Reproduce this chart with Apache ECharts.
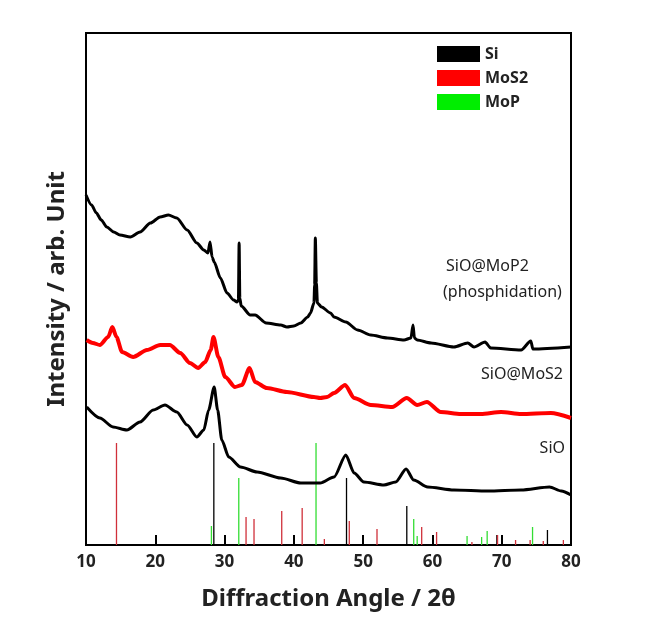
<!DOCTYPE html>
<html>
<head>
<meta charset="utf-8">
<script src="https://cdn.jsdelivr.net/npm/echarts@6/dist/echarts.min.js"></script>
<style>html,body{margin:0;padding:0;background:#fff}#c{width:647px;height:630px}</style>
</head>
<body>
<div id="c"></div>
<script>
// x-axis ticks
const xTicks = [10, 20, 30, 40, 50, 60, 70, 80];

// SiO@MoP2 (phosphidation) curve
const mop2X = [10.0,10.8,11.5,12.2,13.0,14.0,14.9,16.4,17.8,19.3,20.7,21.9,23.1,24.6,26.0,27.0,27.6,27.9,28.2,28.5,29.4,30.35,31.3,31.8,32.0,32.1,32.2,32.4,33.7,34.4,36.0,38.1,39.0,40.0,41.0,42.0,42.4,42.9,43.0,43.1,43.25,43.4,44.0,45.3,45.8,47.5,49.2,51.1,53.5,55.9,56.9,57.2,57.4,57.8,59.8,63.1,65.1,66.0,67.6,68.4,72.8,74.2,74.5,80.0];
const mop2Y = [350,340,332,325,318,313,310,308,313,322,328,330,327,315,302,295,292,303,288,283,267,252,245,243,245,302,247,239,230,230,222,220,218,219,222,228,232,242,260,307,262,242,238,232,228,223,215,210,207,205,207,220,207,205,202,198,202,198,203,197,195,204,196,198];

// SiO@MoS2 curve
const mos2X = [10.1,11.0,12.0,13.2,13.8,14.4,15.2,16.8,18.8,20.7,22.1,23.6,25.0,26.2,27.2,28.0,28.4,29.1,30.1,31.5,32.5,33.6,34.4,36.1,39.0,42.9,43.8,44.8,45.8,47.4,48.7,51.1,54.2,56.3,57.8,59.2,61.2,64.1,67.0,69.9,72.8,77.1,80.0];
const mos2Y = [205,202,200,208,218,208,193,188,195,200,200,192,182,177,183,195,208,188,168,158,160,177,163,157,153,148,147,148,152,160,147,140,138,147,140,143,133,131,131,133,131,132,127];

// SiO curve
const sioX = [10.1,12.0,13.9,15.9,17.8,19.7,21.4,23.1,24.6,26.0,27.0,27.7,28.5,29.0,29.6,30.6,32.3,34.7,38.1,41.0,43.8,45.8,47.5,48.7,50.1,53.0,54.7,56.2,57.3,59.3,63.1,68.0,72.8,76.9,78.6,80.0];
const sioY = [138,127,118,115,123,135,140,133,120,108,115,135,158,135,105,88,78,73,67,62,62,68,90,72,63,60,63,76,65,58,55,54,55,58,54,50];

// Reference patterns (stick positions and relative heights)
const siPos = [28.45, 47.6, 56.3, 69.3, 76.6];
const siH = [102, 67, 39, 10, 15];
const mos2RefPos = [14.4, 33.1, 34.25, 38.25, 41.2, 44.4, 48.0, 52.0, 58.45, 60.6, 65.7, 69.4, 72.0, 74.1, 76.0, 78.9];
const mos2RefH = [102, 28, 26, 34, 37, 6, 24, 16, 18, 13, 3, 10, 5, 5, 4, 5];
const mopPos = [28.1, 32.05, 43.2, 57.3, 57.8, 65.0, 67.1, 67.9, 74.45];
const mopH = [19, 67, 102, 26, 9, 9, 8, 14, 18];

const zip = (a, b) => a.map((v, i) => [v, b[i]]);
const FONT = '"Noto Sans", "DejaVu Sans", sans-serif';

function stick(stroke) {
  return function (params, api) {
    const x = api.value(0), h = api.value(1);
    const p0 = api.coord([x, 0]), p1 = api.coord([x, h]);
    return {type: 'line', shape: {x1: p0[0], y1: p0[1], x2: p1[0], y2: p1[1]},
      style: {stroke: stroke, lineWidth: 1.3}};
  };
}

const chart = echarts.init(document.getElementById('c'), null, {renderer: 'canvas'});
chart.setOption({
  animation: false,
  backgroundColor: '#fff',
  grid: {left: 86, right: 76, top: 33, bottom: 85, show: true, borderColor: '#000', borderWidth: 2, backgroundColor: 'transparent'},
  legend: {
    orient: 'vertical', left: 437, top: 46, padding: 0, itemWidth: 43, itemHeight: 16, itemGap: 8,
    icon: 'rect', data: ['Si', 'MoS2', 'MoP'],
    textStyle: {fontFamily: FONT, fontWeight: 'bold', fontSize: 16, color: '#222'}
  },
  xAxis: {
    type: 'value', min: xTicks[0], max: xTicks[xTicks.length - 1], interval: 10,
    name: 'Diffraction Angle / 2θ', nameLocation: 'middle', nameGap: 42,
    nameTextStyle: {fontFamily: FONT, fontWeight: 'bold', fontSize: 24, color: '#222'},
    axisLine: {show: false},
    axisTick: {show: true, inside: true, length: 10, lineStyle: {color: '#000', width: 2}},
    axisLabel: {fontFamily: FONT, fontWeight: 'bold', fontSize: 17, color: '#222', margin: 9},
    splitLine: {show: false}
  },
  yAxis: {
    type: 'value', min: 0, max: 512,
    name: 'Intensity / arb. Unit', nameLocation: 'middle', nameGap: 17, nameRotate: 90,
    nameTextStyle: {fontFamily: FONT, fontWeight: 'bold', fontSize: 24, color: '#222'},
    axisLine: {show: false}, axisTick: {show: false}, axisLabel: {show: false}, splitLine: {show: false}
  },
  series: [
    {name: 'Si', type: 'custom', renderItem: stick('#000'), itemStyle: {color: '#000'}, data: zip(siPos, siH), z: 3},
    {name: 'MoS2', type: 'custom', renderItem: stick('#d0303a'), itemStyle: {color: '#ff0000'}, data: zip(mos2RefPos, mos2RefH), z: 3},
    {name: 'MoP', type: 'custom', renderItem: stick('#33dd33'), itemStyle: {color: '#00ee00'}, data: zip(mopPos, mopH), z: 3},
    {name: 'SiO@MoP2', type: 'line', data: zip(mop2X, mop2Y), showSymbol: false, smooth: 0.25, smoothMonotone: 'x', lineStyle: {color: '#000', width: 3}, z: 4},
    {name: 'SiO@MoS2', type: 'line', data: zip(mos2X, mos2Y), showSymbol: false, smooth: 0.25, smoothMonotone: 'x', lineStyle: {color: '#ff0000', width: 4}, z: 4},
    {name: 'SiO', type: 'line', data: zip(sioX, sioY), showSymbol: false, smooth: 0.25, smoothMonotone: 'x', lineStyle: {color: '#000', width: 3}, z: 4}
  ],
  graphic: [
    {type: 'text', left: 446, top: 258, style: {text: 'SiO@MoP2', font: '16px ' + FONT, fill: '#222'}},
    {type: 'text', left: 443, top: 284, style: {text: '(phosphidation)', font: '16px ' + FONT, fill: '#222'}},
    {type: 'text', right: 84, top: 366, style: {text: 'SiO@MoS2', font: '16px ' + FONT, fill: '#222'}},
    {type: 'text', right: 82, top: 440, style: {text: 'SiO', font: '16px ' + FONT, fill: '#222'}}
  ]
});
</script>
</body>
</html>
